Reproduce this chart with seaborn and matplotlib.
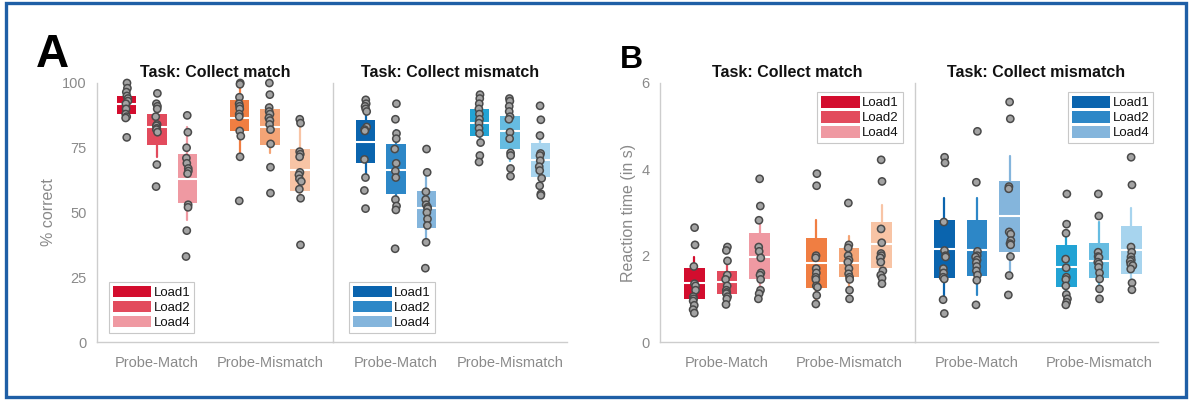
import numpy as np
import pandas as pd
import matplotlib
matplotlib.use("Agg")
import matplotlib.pyplot as plt
import seaborn as sns
from matplotlib.patches import Patch, Rectangle

sns.set_style("white")
plt.rcParams["font.family"] = ["Liberation Sans", "DejaVu Sans"]

probes = ["Probe-Match", "Probe-Mismatch"]
loads = ["Load1", "Load2", "Load4"]

# ---------------- Panel A: % correct ----------------
# Task: Collect match
accA_match_pm = [
    [100, 98, 96.5, 95, 94, 93, 92, 90, 88, 87, 86.5, 79],
    [96, 92, 91, 90, 87, 84, 83.5, 82.5, 82, 81, 68.5, 60],
    [87.5, 81, 75, 71, 69, 67, 66, 65, 53, 52, 43, 33],
]
accA_match_pmm = [
    [100, 99.5, 94.5, 92, 91, 90, 88, 87, 81.5, 79.5, 71.5, 54.5],
    [100, 95.5, 90.5, 89, 88, 86.5, 85.5, 84, 82, 76.5, 67.5, 57.5],
    [86, 84.5, 73.5, 72.5, 71.5, 65.5, 64.5, 63, 62, 59, 55.5, 37.5],
]
# Task: Collect mismatch
accA_mis_pm = [
    [93.5, 92, 91, 90, 89, 83, 82, 81.5, 70.5, 63.5, 58.5, 51.5],
    [92, 86, 80.5, 78.5, 74.5, 69, 66, 63.5, 55, 52.5, 51, 36],
    [74.5, 65.5, 58, 55, 53, 52, 51.5, 50, 47.5, 45, 38.5, 28.5],
]
accA_mis_pmm = [
    [95.5, 94, 92, 90, 88, 86, 84.5, 82.5, 80.5, 77, 72, 69.5],
    [94, 93, 91, 89, 87, 86, 81, 78.5, 73, 72, 67, 64],
    [91.2, 85.8, 79.7, 72.8, 72, 70, 67.7, 66.2, 63.2, 60.3, 57.2, 56.6],
]
# box statistics: order = PM L1, L2, L4, PMM L1, L2, L4
accA_match_mid = [91.8, 83, 62.9, 86.3, 83, 66.6]
accA_match_lo = [88.2, 76, 53.8, 81.5, 76, 58.4]
accA_match_hi = [94.9, 88.2, 72.5, 93.6, 90.1, 74.5]
accA_match_wlo = [86, 71.5, 47, 71.5, 72.8, 56]
accA_match_whi = [97, 92, 83, 99.8, 92, 83.7]

accA_mis_mid = [77.3, 66.6, 51.6, 84.6, 81.4, 70.1]
accA_mis_lo = [69.2, 57.1, 44.1, 79.7, 74.7, 63.8]
accA_mis_hi = [85.6, 76.4, 58.4, 89.9, 87.2, 76.9]
accA_mis_wlo = [63.8, 53.6, 38.2, 76, 70, 60]
accA_mis_whi = [92, 81.7, 66.4, 94, 92, 80]

# ---------------- Panel B: reaction time ----------------
rtB_match_pm = [
    [2.65, 2.25, 1.75, 1.35, 1.3, 1.2, 1.05, 1.0, 0.95, 0.85, 0.75, 0.67],
    [2.2, 2.12, 1.88, 1.55, 1.45, 1.3, 1.2, 1.15, 1.12, 1.05, 1.0, 0.87],
    [3.78, 3.15, 2.82, 2.2, 2.1, 1.95, 1.6, 1.55, 1.45, 1.2, 1.12, 1.0],
]
rtB_match_pmm = [
    [3.9, 3.62, 2.0, 1.95, 1.7, 1.6, 1.5, 1.45, 1.3, 1.27, 1.08, 0.88],
    [3.22, 2.25, 2.18, 2.0, 1.9, 1.85, 1.7, 1.58, 1.5, 1.45, 1.2, 1.0],
    [4.22, 3.72, 2.62, 2.3, 2.05, 2.0, 1.95, 1.85, 1.65, 1.55, 1.48, 1.35],
]
rtB_mis_pm = [
    [4.28, 4.15, 2.78, 2.12, 2.0, 1.97, 1.7, 1.6, 1.5, 1.46, 0.98, 0.66],
    [4.88, 3.7, 2.1, 2.0, 1.97, 1.9, 1.84, 1.75, 1.65, 1.55, 1.43, 0.86],
    [5.56, 5.17, 3.6, 3.55, 2.55, 2.5, 2.35, 2.28, 2.25, 1.98, 1.54, 1.09],
]
rtB_mis_pmm = [
    [3.43, 2.73, 2.52, 1.92, 1.72, 1.5, 1.45, 1.3, 1.1, 1.0, 0.92, 0.86],
    [3.43, 2.92, 2.08, 1.98, 1.96, 1.85, 1.81, 1.73, 1.6, 1.46, 1.23, 1.0],
    [4.28, 3.64, 2.2, 2.08, 1.97, 1.9, 1.87, 1.8, 1.77, 1.69, 1.37, 1.21],
]
rtB_match_mid = [1.37, 1.38, 1.98, 1.84, 1.84, 2.28]
rtB_match_lo = [1.0, 1.12, 1.46, 1.25, 1.5, 1.71]
rtB_match_hi = [1.71, 1.64, 2.52, 2.42, 2.18, 2.79]
rtB_match_wlo = [0.8, 0.95, 1.15, 0.9, 1.2, 1.35]
rtB_match_whi = [1.98, 1.88, 2.8, 2.83, 2.45, 3.18]

rtB_mis_mid = [2.15, 2.14, 2.93, 1.74, 1.87, 2.14]
rtB_mis_lo = [1.48, 1.53, 2.08, 1.27, 1.48, 1.58]
rtB_mis_hi = [2.83, 2.83, 3.72, 2.24, 2.29, 2.69]
rtB_mis_wlo = [0.98, 1.1, 1.5, 0.95, 1.2, 1.25]
rtB_mis_whi = [3.33, 3.33, 4.32, 2.45, 2.79, 3.1]

# colours per (probe, load)
col_match = ["#d30d2e", "#e24b5d", "#ef99a2", "#f07e42", "#f4a476", "#f8c4a5"]
col_mis = ["#0a64ae", "#2d87c7", "#84b5dc", "#22a3d4", "#66bce1", "#a7d4ee"]

W, H = 1190, 400
fig = plt.figure(figsize=(W / 100, H / 100), dpi=100)
fig.patch.set_facecolor("white")

gray_txt = "#8a8a8a"
spine_c = "#cdcdcd"


def make_axes(x0, x1):
    return fig.add_axes([x0 / W, (H - 342) / H, (x1 - x0) / W, 259 / H])


def draw(ax, pm, pmm, mid, lo, hi, wlo, whi, colors, ylim, yticks, xlim, title,
         show_ylab, ylabel, leg_loc, leg_anchor):
    rows = []
    for p, grp in zip(probes, [pm, pmm]):
        for l, vals in zip(loads, grp):
            for v in vals:
                rows.append({"probe": p, "load": l, "value": v})
    df = pd.DataFrame(rows)

    offsets = [-0.8 / 3, 0.0, 0.8 / 3]
    stats, pos = [], []
    k = 0
    for pi in range(2):
        for li in range(3):
            stats.append({"med": mid[k], "q1": lo[k], "q3": hi[k],
                          "whislo": wlo[k], "whishi": whi[k], "fliers": []})
            pos.append(pi + offsets[li])
            k += 1
    bp = ax.bxp(stats, positions=pos, widths=0.17, patch_artist=True,
                showcaps=False, showfliers=False, manage_ticks=False)
    for i, box in enumerate(bp["boxes"]):
        box.set_facecolor(colors[i])
        box.set_edgecolor("none")
        box.set_zorder(2)
    for i, w in enumerate(bp["whiskers"]):
        w.set_color(colors[i // 2])
        w.set_linewidth(1.6)
        w.set_zorder(1.5)
    for m in bp["medians"]:
        m.set_color("white")
        m.set_linewidth(1.5)
        m.set_zorder(2.5)

    np.random.seed(3)
    sns.stripplot(data=df, x="probe", y="value", hue="load", order=probes,
                  hue_order=loads, dodge=True, jitter=0.035, size=5.2,
                  palette=["#a3a3a3"] * 3, edgecolor="#4a4a4a", linewidth=1.1,
                  ax=ax, legend=False, zorder=3, clip_on=False)

    ax.set_xlim(*xlim)
    ax.set_ylim(*ylim)
    ax.set_yticks(yticks)
    ax.set_xticks([0, 1])
    ax.set_xticklabels(probes)
    ax.set_xlabel("")
    if show_ylab:
        ax.set_ylabel(ylabel, color=gray_txt, fontsize=11.5, labelpad=4)
        ax.tick_params(axis="y", direction="out")
    else:
        ax.set_ylabel("")
        ax.set_yticklabels([])
        ax.tick_params(axis="y", direction="inout")
    ax.tick_params(axis="both", colors=spine_c, labelcolor=gray_txt,
                   labelsize=10.5, length=4, width=1)
    ax.tick_params(axis="x", direction="out", pad=6)
    for s in ["top", "right"]:
        ax.spines[s].set_visible(False)
    for s in ["left", "bottom"]:
        ax.spines[s].set_color(spine_c)
        ax.spines[s].set_linewidth(1)
    ax.set_facecolor("none")
    ax.set_title(title, fontsize=11.5, fontweight="bold", color="#111111", pad=4)

    handles = [Patch(facecolor=colors[i], edgecolor="none", label=loads[i])
               for i in range(3)]
    leg = ax.legend(handles=handles, loc=leg_loc, bbox_to_anchor=leg_anchor,
                    borderaxespad=0, frameon=True, fancybox=False, framealpha=1,
                    edgecolor="#c8c8c8", fontsize=9.5, handlelength=2.9,
                    handleheight=1.0, labelspacing=0.12, borderpad=0.3,
                    handletextpad=0.2)
    leg.get_frame().set_linewidth(0.8)
    for t in leg.get_texts():
        t.set_color("#111111")


axA1 = make_axes(97, 333)
axA2 = make_axes(333, 567)
axB1 = make_axes(660, 915)
axB2 = make_axes(915, 1158)

draw(axA1, accA_match_pm, accA_match_pmm, accA_match_mid, accA_match_lo,
     accA_match_hi, accA_match_wlo, accA_match_whi, col_match, (0, 100),
     [0, 25, 50, 75, 100], (-0.531, 1.558), "Task: Collect match", True,
     "% correct", "lower left", (0.05, 0.035))
draw(axA2, accA_mis_pm, accA_mis_pmm, accA_mis_mid, accA_mis_lo,
     accA_mis_hi, accA_mis_wlo, accA_mis_whi, col_mis, (0, 100),
     [0, 25, 50, 75, 100], (-0.553, 1.5), "Task: Collect mismatch", False,
     "", "lower left", (0.07, 0.035))
draw(axB1, rtB_match_pm, rtB_match_pmm, rtB_match_mid, rtB_match_lo,
     rtB_match_hi, rtB_match_wlo, rtB_match_whi, col_match, (0, 6),
     [0, 2, 4, 6], (-0.549, 1.541), "Task: Collect match", True,
     "Reaction time (in s)", "upper right", (0.953, 0.965))
draw(axB2, rtB_mis_pm, rtB_mis_pmm, rtB_mis_mid, rtB_mis_lo,
     rtB_mis_hi, rtB_mis_wlo, rtB_mis_whi, col_mis, (0, 6),
     [0, 2, 4, 6], (-0.508, 1.484), "Task: Collect mismatch", False,
     "", "upper right", (0.98, 0.965))

fig.text(36 / W, 1 - 67 / H, "A", fontsize=33, fontweight="bold",
         color="black", va="baseline", ha="left")
fig.text(620 / W, 1 - 68 / H, "B", fontsize=23, fontweight="bold",
         color="black", va="baseline", ha="left")

fig.patches.append(Rectangle((6 / W, 3 / H), (1186 - 6) / W, (397 - 3) / H,
                             transform=fig.transFigure, fill=False,
                             edgecolor="#1f5fa6", linewidth=2.4, zorder=10))

fig.savefig("out.png", dpi=100, facecolor="white")
